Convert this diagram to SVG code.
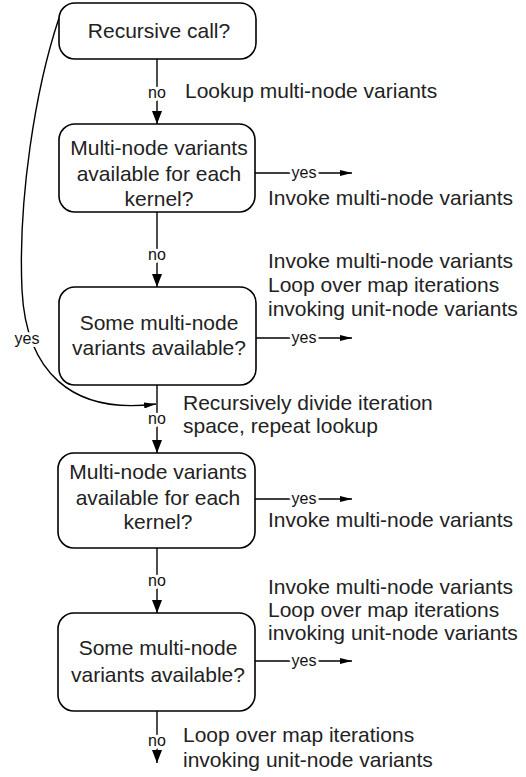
<svg xmlns="http://www.w3.org/2000/svg" width="526" height="777" viewBox="0 0 526 777">
<style>
.box{fill:#fff;stroke:#000;stroke-width:1.6}
.t{font-family:"Liberation Sans",Arial,sans-serif;font-size:21px;fill:#222}
.c{text-anchor:middle}
.lbl{font-family:"Liberation Sans",Arial,sans-serif;font-size:16px;fill:#111;text-anchor:middle;stroke:#fff;stroke-width:6;paint-order:stroke;stroke-linejoin:round}
.ln{fill:none;stroke:#000;stroke-width:1.4}
</style>
<defs>
<marker id="av" markerUnits="userSpaceOnUse" markerWidth="13" markerHeight="10" refX="13" refY="5" orient="auto" viewBox="0 0 13 10"><path d="M0,0 L13,5 L0,10 z" fill="#000"/></marker>
<marker id="ah" markerUnits="userSpaceOnUse" markerWidth="12" markerHeight="6" refX="12" refY="3" orient="auto" viewBox="0 0 12 6"><path d="M0,0 L12,3 L0,6 z" fill="#000"/></marker>
</defs>
<g id="connectors">
<path class="ln" d="M157,59 V124" marker-end="url(#av)"/>
<text class="lbl" x="157" y="98">no</text>
<path class="ln" d="M255,173 H352" marker-end="url(#ah)"/>
<text class="lbl" x="304" y="178">yes</text>
<path class="ln" d="M157,212 V287" marker-end="url(#av)"/>
<text class="lbl" x="157" y="260">no</text>
<path class="ln" d="M255,338 H352" marker-end="url(#ah)"/>
<text class="lbl" x="304" y="343">yes</text>
<path class="ln" d="M59,18 C35,90 18,200 22,290 C26,370 70,415 156,404" marker-end="url(#ah)"/>
<text class="lbl" x="27" y="344">yes</text>
<path class="ln" d="M157,385 V453" marker-end="url(#av)"/>
<text class="lbl" x="157" y="424">no</text>
<path class="ln" d="M255,499 H352" marker-end="url(#ah)"/>
<text class="lbl" x="304" y="504">yes</text>
<path class="ln" d="M157,548 V613" marker-end="url(#av)"/>
<text class="lbl" x="157" y="586">no</text>
<path class="ln" d="M255,661 H352" marker-end="url(#ah)"/>
<text class="lbl" x="304" y="666">yes</text>
<path class="ln" d="M157,711 V763" marker-end="url(#av)"/>
<text class="lbl" x="157" y="746">no</text>
</g>
<g id="n1"><rect class="box" x="59" y="3" width="197" height="56" rx="16"/><text class="t c" x="159" y="38">Recursive call?</text></g>
<g id="n2"><rect class="box" x="59" y="124" width="196" height="88" rx="16"/><text class="t c" x="159" y="155">Multi-node variants</text><text class="t c" x="159" y="181">available for each</text><text class="t c" x="159" y="206">kernel?</text></g>
<g id="n3"><rect class="box" x="59" y="287" width="197" height="98" rx="16"/><text class="t c" x="159" y="330">Some multi-node</text><text class="t c" x="159" y="355">variants available?</text></g>
<g id="n4"><rect class="box" x="58" y="453" width="197" height="95" rx="16"/><text class="t c" x="158" y="479">Multi-node variants</text><text class="t c" x="158" y="505">available for each</text><text class="t c" x="158" y="529">kernel?</text></g>
<g id="n5"><rect class="box" x="58" y="613" width="197" height="98" rx="16"/><text class="t c" x="158" y="655">Some multi-node</text><text class="t c" x="158" y="682">variants available?</text></g>
<g id="notes">
<text class="t" x="185" y="98">Lookup multi-node variants</text>
<text class="t" x="268" y="205">Invoke multi-node variants</text>
<text class="t" x="268" y="268">Invoke multi-node variants</text>
<text class="t" x="268" y="292">Loop over map iterations</text>
<text class="t" x="268" y="316">invoking unit-node variants</text>
<text class="t" x="183" y="410">Recursively divide iteration</text>
<text class="t" x="183" y="433">space, repeat lookup</text>
<text class="t" x="268" y="527">Invoke multi-node variants</text>
<text class="t" x="268" y="594">Invoke multi-node variants</text>
<text class="t" x="268" y="617">Loop over map iterations</text>
<text class="t" x="268" y="640">invoking unit-node variants</text>
<text class="t" x="183" y="742">Loop over map iterations</text>
<text class="t" x="183" y="767">invoking unit-node variants</text>
</g>
</svg>
